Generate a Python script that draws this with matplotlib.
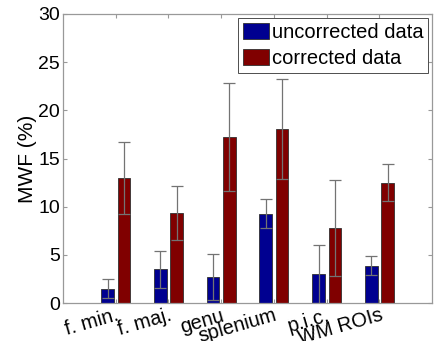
import numpy as np
import matplotlib
matplotlib.use('Agg')
import matplotlib.pyplot as plt

plt.rcParams['font.family'] = ['Liberation Sans', 'DejaVu Sans']

regions = ['f. min.', 'f. maj.', 'genu', 'splenium', 'p.i.c.', 'WM ROIs']
uncorrected = [1.5, 3.5, 2.7, 9.3, 3.0, 3.9]
uncorrected_err = [1.0, 1.95, 2.4, 1.55, 3.0, 0.95]
corrected = [13.0, 9.4, 17.2, 18.1, 7.8, 12.5]
corrected_err = [3.7, 2.8, 5.6, 5.2, 5.0, 1.95]

fig = plt.figure(figsize=(4.37, 3.41), dpi=100)
ax = fig.add_axes([0.144, 0.111, 0.845, 0.848])

x = np.arange(1, len(regions) + 1)
w = 0.24
off = 0.155
ax.bar(x - off, uncorrected, w, color='#000090', edgecolor='#303030',
       linewidth=0.6, label='uncorrected data')
ax.bar(x + off, corrected, w, color='#800000', edgecolor='#303030',
       linewidth=0.6, label='corrected data')
ax.errorbar(x - off, uncorrected, yerr=uncorrected_err, fmt='none',
            ecolor='0.45', elinewidth=0.9, capsize=4, capthick=0.9)
ax.errorbar(x + off, corrected, yerr=corrected_err, fmt='none',
            ecolor='0.45', elinewidth=0.9, capsize=4, capthick=0.9)

ax.set_xlim(0, 7)
ax.set_ylim(0, 30)
ax.set_yticks([0, 5, 10, 15, 20, 25, 30])
ax.set_xticks(x)
ax.set_xticklabels(regions, rotation=16, ha='right', rotation_mode='anchor',
                   fontsize=14.5)
ax.tick_params(axis='y', labelsize=14)
ax.tick_params(direction='in', length=3, color='0.6', top=True, right=True,
               width=0.8, pad=2)
for s in ax.spines.values():
    s.set_color('0.6')
    s.set_linewidth(0.9)
ax.set_ylabel('MWF (%)', fontsize=15, labelpad=1)

leg = ax.legend(loc='upper right', fontsize=14.5, handlelength=1.3,
                handleheight=0.85, handletextpad=0.1, borderpad=0.25,
                labelspacing=0.35, borderaxespad=0.2, fancybox=False,
                framealpha=1)
leg.get_frame().set_edgecolor('0.3')
leg.get_frame().set_linewidth(0.7)

fig.savefig('out.png', dpi=100)
